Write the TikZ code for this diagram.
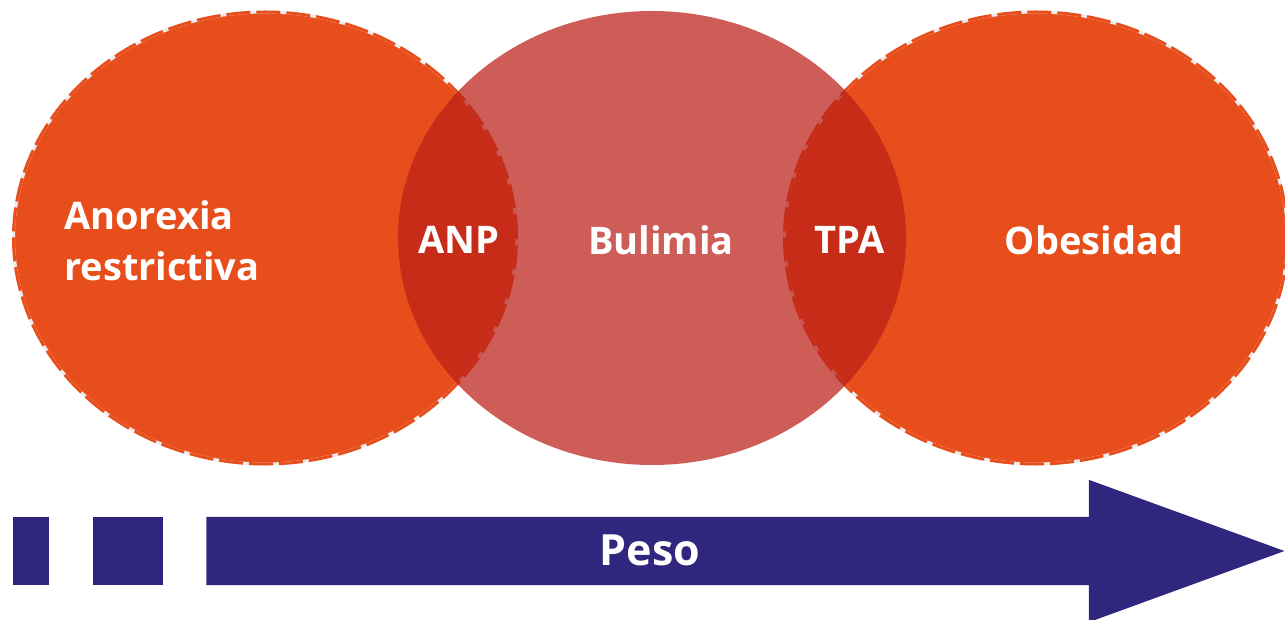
\documentclass[tikz,border=0pt]{standalone}
\usepackage{fontspec}
\setmainfont{Open Sans}
\usepackage{tikz}
\usepackage{xcolor}
\usetikzlibrary{shapes.geometric,shapes.arrows}
\definecolor{setorange}{HTML}{E84E1B}
\definecolor{bulired}{RGB}{188,32,24}
\definecolor{pesoblue}{HTML}{31267E}
\tikzstyle{setout}	= [ellipse, fill=setorange, draw=black!8, line width=3pt, minimum width=503pt, minimum height=452pt, inner sep=0pt, postaction={draw=setorange, line width=3pt, dash pattern=on 24pt off 6pt}]
\tikzstyle{setmid}	= [ellipse, fill=bulired, fill opacity=0.73, minimum width=508pt, minimum height=454pt, inner sep=0pt]
\tikzstyle{lbl}		= [text=white, font=\bfseries\fontsize{38}{51}\selectfont, inner sep=0pt]
\tikzstyle{dashbox}	= [fill=pesoblue, minimum height=68pt, inner sep=0pt, anchor=west]
\tikzstyle{pesoarr}	= [single arrow, fill=pesoblue, minimum height=1078pt, single arrow head extend=37pt, single arrow tip angle=40, inner xsep=0pt, inner ysep=34pt, anchor=tip]

\begin{document}
\begin{tikzpicture}[x=1pt, y=-1pt]
		\useasboundingbox (0,0) rectangle (1285,620);
		
		%%%% sets
		\node[setout] (ano) at (265,238) {};
		\node[setout] (obe) at (1036,238) {};
		\node[setmid] (bul) at (652,238) {};
		
		%%%% labels
		\node[lbl, align=left, anchor=west] (tano) at (64,241) {Anorexia\\restrictiva};
		\foreach \pos/\name/\txt in {{(459,240)/tanp/ANP}, {(661,240)/tbul/Bulimia}, {(850,240)/ttpa/TPA}, {(1094,240)/tobe/Obesidad}}
		\node[lbl] (\name) at \pos {\txt};
		
		%%%% weight axis
		\foreach \pos/\name/\w in {{(13,551)/sq1/36pt}, {(93,551)/sq2/70pt}}
		\node[dashbox, minimum width=\w] (\name) at \pos {};
		\node[pesoarr] (peso) at (1285,551) {};
		\node[lbl, font=\bfseries\fontsize{43}{50}\selectfont] (tpeso) at (650,550) {Peso};
\end{tikzpicture}
\end{document}
